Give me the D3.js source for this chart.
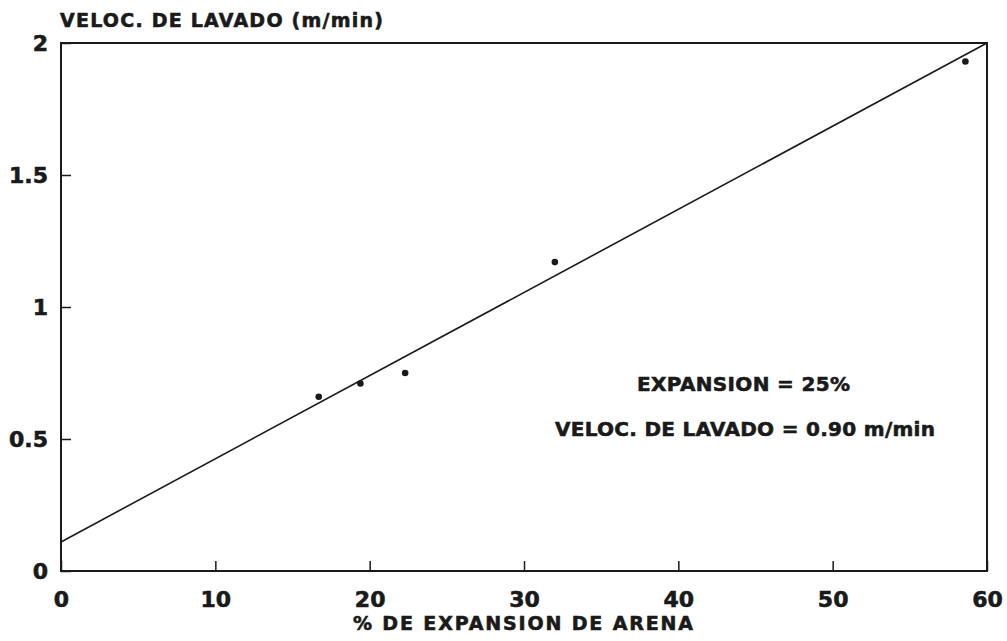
<!DOCTYPE html>
<html>
<head>
<meta charset="utf-8">
<script src="https://cdn.jsdelivr.net/npm/d3@7"></script>
<style>
  body { margin: 0; background: #fff; }
  text { font-family: "DejaVu Sans", sans-serif; font-weight: bold; fill: #1a1a1a; stroke: #1a1a1a; stroke-width: 0.6px; }
</style>
</head>
<body>
<script>
// Data
const expansion = [16.7, 19.4, 22.3, 32.0, 58.6];
const velocity = [0.66, 0.71, 0.75, 1.17, 1.93];
const fitX = [0, 60];
const fitY = [0.11, 2.0];
const xTicks = [0, 10, 20, 30, 40, 50, 60];
const yTicks = [0, 0.5, 1, 1.5, 2];
const yTickLabels = ["0", "0.5", "1", "1.5", "2"];
const notes = ["EXPANSION = 25%", "VELOC. DE LAVADO = 0.90 m/min"];

// Declare the chart dimensions and margins.
const width = 1007;
const height = 641;
const marginTop = 43;
const marginRight = 20;
const marginBottom = 70;
const marginLeft = 61;

const x = d3.scaleLinear()
    .domain([0, 60])
    .range([marginLeft, width - marginRight]);

const y = d3.scaleLinear()
    .domain([0, 2])
    .range([height - marginBottom, marginTop]);

const svg = d3.create("svg")
    .attr("width", width)
    .attr("height", height);

// frame
svg.append("rect")
    .attr("x", x(0))
    .attr("y", y(2))
    .attr("width", x(60) - x(0))
    .attr("height", y(0) - y(2))
    .attr("fill", "none")
    .attr("stroke", "#1a1a1a")
    .attr("stroke-width", 2);

// x-axis (ticks point inward)
svg.append("g")
    .attr("transform", `translate(0,${y(0)})`)
    .call(d3.axisBottom(x).tickValues(xTicks).tickSize(-10).tickPadding(20).tickFormat(d3.format("d")))
    .call(g => g.select(".domain").remove())
    .call(g => g.selectAll("line").attr("stroke", "#1a1a1a").attr("stroke-width", 1.5))
    .call(g => g.selectAll("text").attr("font-size", 22).attr("font-family", null));

// y-axis
svg.append("g")
    .attr("transform", `translate(${x(0)},0)`)
    .call(d3.axisLeft(y).tickValues(yTicks).tickSize(-10).tickPadding(13)
        .tickFormat((d, i) => yTickLabels[i]))
    .call(g => g.select(".domain").remove())
    .call(g => g.selectAll("line").attr("stroke", "#1a1a1a").attr("stroke-width", 1.5))
    .call(g => g.selectAll("text").attr("font-size", 22).attr("font-family", null));

// fitted line
svg.append("path")
    .datum(d3.zip(fitX, fitY))
    .attr("fill", "none")
    .attr("stroke", "#1a1a1a")
    .attr("stroke-width", 1.6)
    .attr("d", d3.line().x(d => x(d[0])).y(d => y(d[1])));

// measured points
svg.append("g")
    .selectAll("circle")
    .data(d3.zip(expansion, velocity))
    .join("circle")
    .attr("cx", d => x(d[0]))
    .attr("cy", d => y(d[1]))
    .attr("r", 3.3)
    .attr("fill", "#1a1a1a");

// axis titles
svg.append("text")
    .attr("x", 60)
    .attr("y", 27)
    .attr("font-size", 19)
    .attr("textLength", 323)
    .text("VELOC. DE LAVADO (m/min)");

svg.append("text")
    .attr("x", 353)
    .attr("y", 630)
    .attr("font-size", 19)
    .attr("textLength", 340)
    .text("% DE EXPANSION DE ARENA");

// annotation
svg.append("g")
    .selectAll("text")
    .data(notes)
    .join("text")
    .attr("x", (d, i) => i === 0 ? 637 : 555)
    .attr("y", (d, i) => i === 0 ? 391 : 436)
    .attr("font-size", 20)
    .attr("textLength", (d, i) => i === 0 ? 213 : 380)
    .text(d => d);

document.body.append(svg.node());
</script>
</body>
</html>
